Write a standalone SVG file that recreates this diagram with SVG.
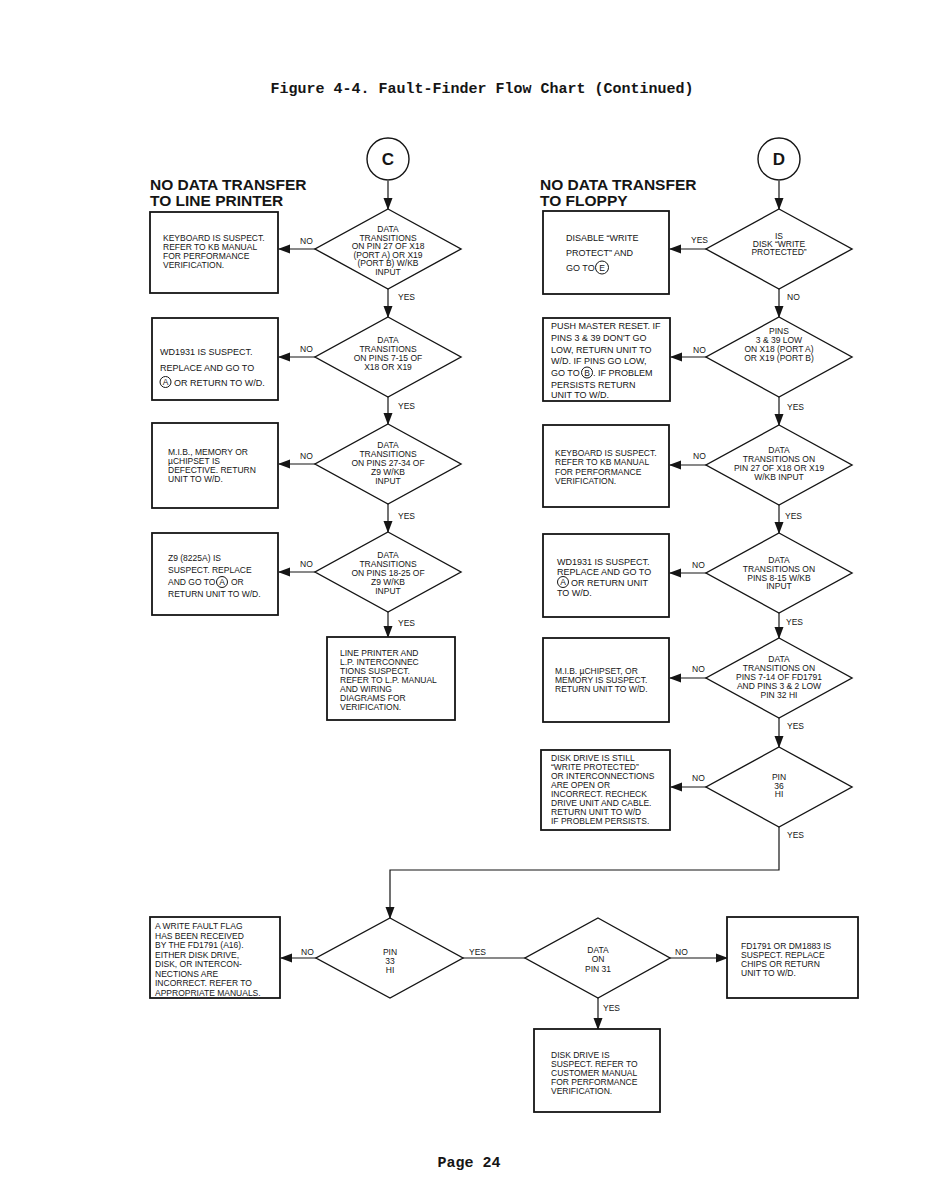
<svg xmlns="http://www.w3.org/2000/svg" width="932" height="1198" viewBox="0 0 932 1198">
<style>
.t{font-family:"Liberation Sans",Arial,sans-serif;font-size:8.5px;fill:#151515}
.t9{font-family:"Liberation Sans",Arial,sans-serif;font-size:9px;fill:#151515}
.c{text-anchor:middle}
.h{font-family:"Liberation Sans",Arial,sans-serif;font-size:15.5px;font-weight:bold;fill:#151515}
.m{font-family:"Liberation Mono","Courier New",monospace;font-size:15px;font-weight:bold;fill:#151515}
.b{fill:#fff;stroke:#151515;stroke-width:1.8}
.d{fill:#fff;stroke:#151515;stroke-width:1.4}
.l{fill:none;stroke:#151515;stroke-width:1.2}
.cl{fill:none;stroke:#151515;stroke-width:1}
.big{font-family:"Liberation Sans",Arial,sans-serif;font-size:17px;font-weight:bold;fill:#151515;text-anchor:middle}
</style>
<defs>
<marker id="ah" markerUnits="userSpaceOnUse" markerWidth="12" markerHeight="10" refX="11" refY="5" orient="auto">
<path d="M0,0.5 L12,5 L0,9.5 Z" fill="#151515"/>
</marker>
</defs>
<rect width="932" height="1198" fill="#fff"/>
<text class="m" x="482" y="93" text-anchor="middle">Figure 4-4. Fault-Finder Flow Chart (Continued)</text>
<text class="m" x="469" y="1167" text-anchor="middle">Page 24</text>

<g id="headings">
<text class="h" x="150" y="190">NO DATA TRANSFER</text>
<text class="h" x="150" y="206">TO LINE PRINTER</text>
<text class="h" x="540" y="190">NO DATA TRANSFER</text>
<text class="h" x="540" y="206">TO FLOPPY</text>
</g>

<g id="connectors">
<line class="l" x1="388" y1="181" x2="388" y2="209" marker-end="url(#ah)"/>
<line class="l" x1="388" y1="289" x2="388" y2="317" marker-end="url(#ah)"/>
<line class="l" x1="388" y1="397" x2="388" y2="424" marker-end="url(#ah)"/>
<line class="l" x1="388" y1="504" x2="388" y2="532" marker-end="url(#ah)"/>
<line class="l" x1="388" y1="612" x2="388" y2="637" marker-end="url(#ah)"/>
<line class="l" x1="315" y1="249" x2="279" y2="249" marker-end="url(#ah)"/>
<line class="l" x1="315" y1="357" x2="279" y2="357" marker-end="url(#ah)"/>
<line class="l" x1="315" y1="464" x2="279" y2="464" marker-end="url(#ah)"/>
<line class="l" x1="315" y1="572" x2="279" y2="572" marker-end="url(#ah)"/>

<line class="l" x1="779" y1="181" x2="779" y2="209" marker-end="url(#ah)"/>
<line class="l" x1="779" y1="289" x2="779" y2="317" marker-end="url(#ah)"/>
<line class="l" x1="779" y1="397" x2="779" y2="425" marker-end="url(#ah)"/>
<line class="l" x1="779" y1="505" x2="779" y2="533" marker-end="url(#ah)"/>
<line class="l" x1="779" y1="613" x2="779" y2="638" marker-end="url(#ah)"/>
<line class="l" x1="779" y1="718" x2="779" y2="747" marker-end="url(#ah)"/>
<line class="l" x1="706" y1="249" x2="670" y2="249" marker-end="url(#ah)"/>
<line class="l" x1="706" y1="357" x2="671" y2="357" marker-end="url(#ah)"/>
<line class="l" x1="706" y1="465" x2="670" y2="465" marker-end="url(#ah)"/>
<line class="l" x1="706" y1="573" x2="670" y2="573" marker-end="url(#ah)"/>
<line class="l" x1="706" y1="678" x2="670" y2="678" marker-end="url(#ah)"/>
<line class="l" x1="706" y1="787" x2="671" y2="787" marker-end="url(#ah)"/>
<polyline class="l" points="779,827 779,870 390,870 390,918" marker-end="url(#ah)"/>

<line class="l" x1="316" y1="958" x2="281" y2="958" marker-end="url(#ah)"/>
<line class="l" x1="463" y1="958" x2="525" y2="958"/>
<line class="l" x1="670" y1="958" x2="727" y2="958" marker-end="url(#ah)"/>
<line class="l" x1="598" y1="998" x2="598" y2="1029" marker-end="url(#ah)"/>
</g>

<g id="startC">
<circle class="d" cx="388" cy="159" r="21"/>
<text class="big" x="388" y="165">C</text>
</g>
<g id="startD">
<circle class="d" cx="779" cy="159" r="21"/>
<text class="big" x="779" y="165">D</text>
</g>

<g id="labels">
<text class="t" x="300" y="244">NO</text>
<text class="t" x="300" y="352">NO</text>
<text class="t" x="300" y="459">NO</text>
<text class="t" x="300" y="567">NO</text>
<text class="t" x="398" y="300">YES</text>
<text class="t" x="398" y="409">YES</text>
<text class="t" x="398" y="519">YES</text>
<text class="t" x="398" y="626">YES</text>
<text class="t" x="691" y="243">YES</text>
<text class="t" x="787" y="300">NO</text>
<text class="t" x="693" y="353">NO</text>
<text class="t" x="787" y="410">YES</text>
<text class="t" x="693" y="459">NO</text>
<text class="t" x="785" y="519">YES</text>
<text class="t" x="692" y="568">NO</text>
<text class="t" x="786" y="625">YES</text>
<text class="t" x="692" y="672">NO</text>
<text class="t" x="787" y="729">YES</text>
<text class="t" x="692" y="781">NO</text>
<text class="t" x="787" y="838">YES</text>
<text class="t" x="301" y="955">NO</text>
<text class="t" x="469" y="955">YES</text>
<text class="t" x="675" y="955">NO</text>
<text class="t" x="603" y="1011">YES</text>
</g>

<g id="dL1">
<polygon class="d" points="388,209 461,249 388,289 315,249"/>
<text class="t c" x="388" y="232">DATA</text>
<text class="t c" x="388" y="240.5">TRANSITIONS</text>
<text class="t c" x="388" y="249">ON PIN 27 OF X18</text>
<text class="t c" x="388" y="257.5">(PORT A) OR X19</text>
<text class="t c" x="388" y="266">(PORT B) W/KB</text>
<text class="t c" x="388" y="274.5">INPUT</text>
</g>
<g id="bL1">
<rect class="b" x="150" y="212" width="128" height="81"/>
<text class="t" x="163" y="241">KEYBOARD IS SUSPECT.</text>
<text class="t" x="163" y="250">REFER TO KB MANUAL</text>
<text class="t" x="163" y="259">FOR PERFORMANCE</text>
<text class="t" x="163" y="268">VERIFICATION.</text>
</g>

<g id="dL2">
<polygon class="d" points="388,317 461,357 388,397 315,357"/>
<text class="t c" x="388" y="343">DATA</text>
<text class="t c" x="388" y="352">TRANSITIONS</text>
<text class="t c" x="388" y="361">ON PINS 7-15 OF</text>
<text class="t c" x="388" y="369.5">X18 OR X19</text>
</g>
<g id="bL2">
<rect class="b" x="152" y="318" width="126" height="82"/>
<text class="t9" x="160" y="355">WD1931 IS SUSPECT.</text>
<text class="t9" x="160" y="371">REPLACE AND GO TO</text>
<circle class="cl" cx="165.5" cy="382" r="5.5"/>
<text class="t c" x="165.5" y="385">A</text>
<text class="t9" x="174" y="385.5">OR RETURN TO W/D.</text>
</g>

<g id="dL3">
<polygon class="d" points="388,424 461,464 388,504 315,464"/>
<text class="t c" x="388" y="448">DATA</text>
<text class="t c" x="388" y="457">TRANSITIONS</text>
<text class="t c" x="388" y="466">ON PINS 27-34 OF</text>
<text class="t c" x="388" y="475">Z9 W/KB</text>
<text class="t c" x="388" y="484">INPUT</text>
</g>
<g id="bL3">
<rect class="b" x="152" y="423" width="126" height="85"/>
<text class="t" x="168" y="455">M.I.B., MEMORY OR</text>
<text class="t" x="168" y="464">µCHIPSET IS</text>
<text class="t" x="168" y="473">DEFECTIVE. RETURN</text>
<text class="t" x="168" y="482">UNIT TO W/D.</text>
</g>

<g id="dL4">
<polygon class="d" points="388,532 461,572 388,612 315,572"/>
<text class="t c" x="388" y="558">DATA</text>
<text class="t c" x="388" y="567">TRANSITIONS</text>
<text class="t c" x="388" y="576">ON PINS 18-25 OF</text>
<text class="t c" x="388" y="585">Z9 W/KB</text>
<text class="t c" x="388" y="594">INPUT</text>
</g>
<g id="bL4">
<rect class="b" x="152" y="533" width="126" height="82"/>
<text class="t" x="168" y="561">Z9 (8225A) IS</text>
<text class="t" x="168" y="573">SUSPECT. REPLACE</text>
<text class="t" x="168" y="585">AND GO TO</text>
<circle class="cl" cx="222" cy="582" r="5.5"/>
<text class="t c" x="222" y="585">A</text>
<text class="t" x="231" y="585">OR</text>
<text class="t" x="168" y="597">RETURN UNIT TO W/D.</text>
</g>

<g id="bL5">
<rect class="b" x="327" y="637" width="128" height="83"/>
<text class="t" x="340" y="656">LINE PRINTER AND</text>
<text class="t" x="340" y="665">L.P. INTERCONNEC</text>
<text class="t" x="340" y="674">TIONS SUSPECT.</text>
<text class="t" x="340" y="683">REFER TO L.P. MANUAL</text>
<text class="t" x="340" y="692">AND WIRING</text>
<text class="t" x="340" y="701">DIAGRAMS FOR</text>
<text class="t" x="340" y="710">VERIFICATION.</text>
</g>

<g id="dR1">
<polygon class="d" points="779,209 852,249 779,289 706,249"/>
<text class="t c" x="779" y="239">IS</text>
<text class="t c" x="779" y="247">DISK “WRITE</text>
<text class="t c" x="779" y="255">PROTECTED”</text>
</g>
<g id="bR1">
<rect class="b" x="543" y="211" width="126" height="83"/>
<text class="t9" x="566" y="241">DISABLE “WRITE</text>
<text class="t9" x="566" y="256">PROTECT” AND</text>
<text class="t9" x="566" y="271">GO TO</text>
<circle class="cl" cx="602" cy="267.5" r="6.5"/>
<text class="t c" x="602" y="270.5">E</text>
</g>

<g id="dR2">
<polygon class="d" points="779,317 852,357 779,397 706,357"/>
<text class="t c" x="779" y="334">PINS</text>
<text class="t c" x="779" y="343">3 &amp; 39 LOW</text>
<text class="t c" x="779" y="352">ON X18 (PORT A)</text>
<text class="t c" x="779" y="361">OR X19 (PORT B)</text>
</g>
<g id="bR2">
<rect class="b" x="543" y="318" width="127" height="83"/>
<text class="t9" x="551" y="329">PUSH MASTER RESET. IF</text>
<text class="t9" x="551" y="341">PINS 3 &amp; 39 DON'T GO</text>
<text class="t9" x="551" y="352.5">LOW, RETURN UNIT TO</text>
<text class="t9" x="551" y="364">W/D. IF PINS GO LOW,</text>
<text class="t9" x="551" y="376">GO TO</text>
<circle class="cl" cx="587" cy="372.5" r="5.5"/>
<text class="t c" x="587" y="375.5">B</text>
<text class="t9" x="593" y="376">. IF PROBLEM</text>
<text class="t9" x="551" y="387.5">PERSISTS RETURN</text>
<text class="t9" x="551" y="398">UNIT TO W/D.</text>
</g>

<g id="dR3">
<polygon class="d" points="779,425 852,465 779,505 706,465"/>
<text class="t c" x="779" y="453">DATA</text>
<text class="t c" x="779" y="462">TRANSITIONS ON</text>
<text class="t c" x="779" y="471">PIN 27 OF X18 OR X19</text>
<text class="t c" x="779" y="480">W/KB INPUT</text>
</g>
<g id="bR3">
<rect class="b" x="543" y="425" width="126" height="82"/>
<text class="t" x="555" y="456">KEYBOARD IS SUSPECT.</text>
<text class="t" x="555" y="465">REFER TO KB MANUAL</text>
<text class="t" x="555" y="475">FOR PERFORMANCE</text>
<text class="t" x="555" y="484">VERIFICATION.</text>
</g>

<g id="dR4">
<polygon class="d" points="779,533 852,573 779,613 706,573"/>
<text class="t c" x="779" y="563">DATA</text>
<text class="t c" x="779" y="572">TRANSITIONS ON</text>
<text class="t c" x="779" y="580.5">PINS 8-15 W/KB</text>
<text class="t c" x="779" y="589">INPUT</text>
</g>
<g id="bR4">
<rect class="b" x="543" y="534" width="126" height="83"/>
<text class="t9" x="557" y="565">WD1931 IS SUSPECT.</text>
<text class="t9" x="557" y="575">REPLACE AND GO TO</text>
<circle class="cl" cx="563" cy="582" r="5.5"/>
<text class="t c" x="563" y="585">A</text>
<text class="t9" x="571" y="585.5">OR RETURN UNIT</text>
<text class="t9" x="557" y="596">TO W/D.</text>
</g>

<g id="dR5">
<polygon class="d" points="779,638 852,678 779,718 706,678"/>
<text class="t c" x="779" y="662">DATA</text>
<text class="t c" x="779" y="671">TRANSITIONS ON</text>
<text class="t c" x="779" y="680">PINS 7-14 OF FD1791</text>
<text class="t c" x="779" y="689">AND PINS 3 &amp; 2 LOW</text>
<text class="t c" x="779" y="698">PIN 32 HI</text>
</g>
<g id="bR5">
<rect class="b" x="543" y="638" width="126" height="84"/>
<text class="t" x="555" y="674">M.I.B. µCHIPSET, OR</text>
<text class="t" x="555" y="683">MEMORY IS SUSPECT.</text>
<text class="t" x="555" y="692">RETURN UNIT TO W/D.</text>
</g>

<g id="dR6">
<polygon class="d" points="779,747 852,787 779,827 706,787"/>
<text class="t c" x="779" y="780">PIN</text>
<text class="t c" x="779" y="788.5">36</text>
<text class="t c" x="779" y="797">HI</text>
</g>
<g id="bR6">
<rect class="b" x="541" y="750" width="129" height="80"/>
<text class="t" x="551" y="761">DISK DRIVE IS STILL</text>
<text class="t" x="551" y="770">“WRITE PROTECTED”</text>
<text class="t" x="551" y="779">OR INTERCONNECTIONS</text>
<text class="t" x="551" y="788">ARE OPEN OR</text>
<text class="t" x="551" y="797">INCORRECT. RECHECK</text>
<text class="t" x="551" y="806">DRIVE UNIT AND CABLE.</text>
<text class="t" x="551" y="815">RETURN UNIT TO W/D</text>
<text class="t" x="551" y="824">IF PROBLEM PERSISTS.</text>
</g>

<g id="dB1">
<polygon class="d" points="390,918 463,958 390,998 316,958"/>
<text class="t c" x="390" y="955">PIN</text>
<text class="t c" x="390" y="964">33</text>
<text class="t c" x="390" y="973">HI</text>
</g>
<g id="bB1">
<rect class="b" x="150" y="917" width="130" height="81"/>
<text class="t" x="155" y="929">A WRITE FAULT FLAG</text>
<text class="t" x="155" y="938.5">HAS BEEN RECEIVED</text>
<text class="t" x="155" y="948">BY THE FD1791 (A16).</text>
<text class="t" x="155" y="957.5">EITHER DISK DRIVE,</text>
<text class="t" x="155" y="967">DISK, OR INTERCON-</text>
<text class="t" x="155" y="976.5">NECTIONS ARE</text>
<text class="t" x="155" y="986">INCORRECT. REFER TO</text>
<text class="t" x="155" y="995.5">APPROPRIATE MANUALS.</text>
</g>

<g id="dB2">
<polygon class="d" points="598,918 670,958 598,998 525,958"/>
<text class="t c" x="598" y="953">DATA</text>
<text class="t c" x="598" y="962">ON</text>
<text class="t c" x="598" y="972">PIN 31</text>
</g>
<g id="bB2">
<rect class="b" x="727" y="917" width="131" height="81"/>
<text class="t" x="741" y="949">FD1791 OR DM1883 IS</text>
<text class="t" x="741" y="958">SUSPECT. REPLACE</text>
<text class="t" x="741" y="967">CHIPS OR RETURN</text>
<text class="t" x="741" y="976">UNIT TO W/D.</text>
</g>
<g id="bB3">
<rect class="b" x="534" y="1029" width="126" height="83"/>
<text class="t" x="551" y="1058">DISK DRIVE IS</text>
<text class="t" x="551" y="1067">SUSPECT. REFER TO</text>
<text class="t" x="551" y="1076">CUSTOMER MANUAL</text>
<text class="t" x="551" y="1085">FOR PERFORMANCE</text>
<text class="t" x="551" y="1094">VERIFICATION.</text>
</g>
</svg>
